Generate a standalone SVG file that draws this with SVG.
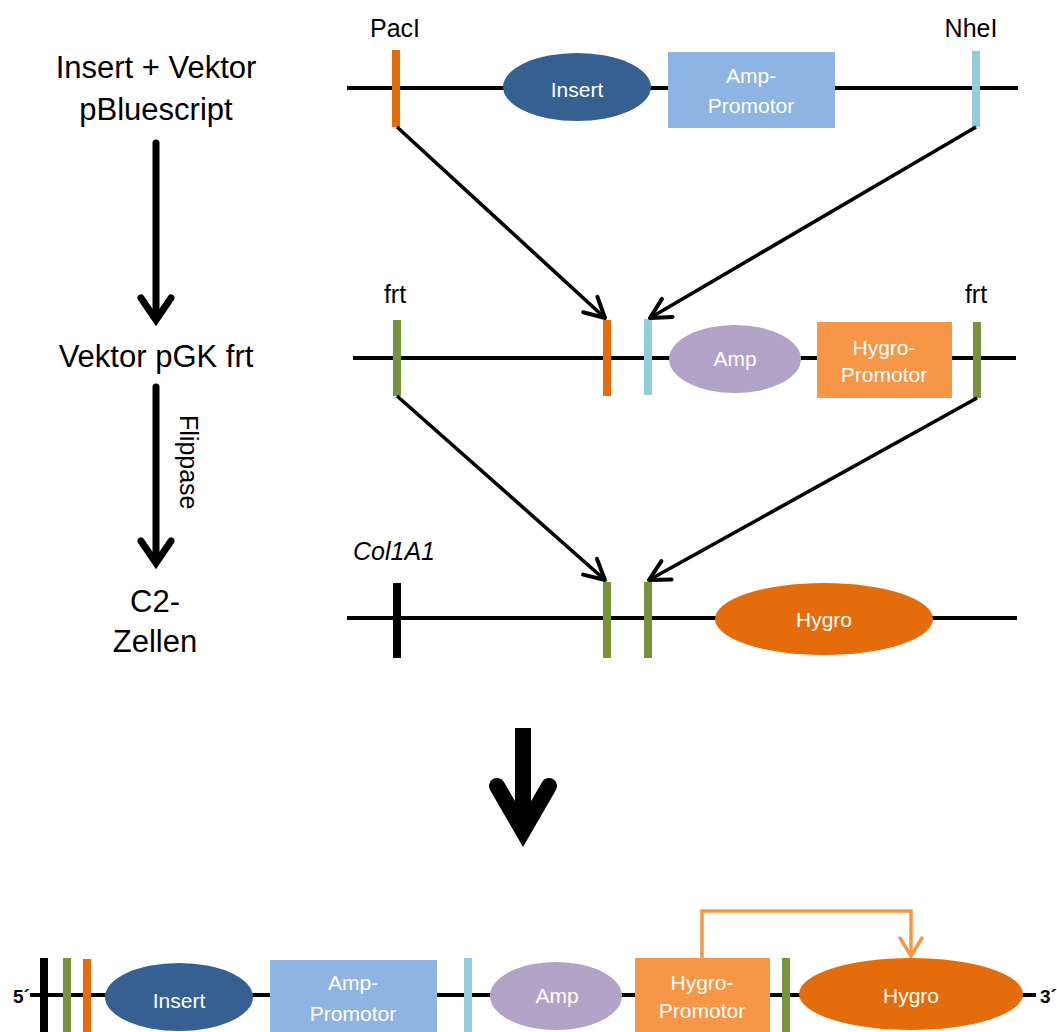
<svg xmlns="http://www.w3.org/2000/svg" width="1057" height="1032" viewBox="0 0 1057 1032">
<defs>
<style>
.t{font-family:"Liberation Sans",Arial,sans-serif;fill:#000}
.big{font-size:31px}
.lbl{font-size:25px}
.in{font-family:"Liberation Sans",Arial,sans-serif;font-size:21px;fill:#fff;text-anchor:middle}
.dna{stroke:#000;stroke-width:4;fill:none}
.conn{stroke:#000;stroke-width:3.6;fill:none}
.flow{stroke:#000;stroke-width:7;fill:none;stroke-linecap:round}
.head{stroke:#000;stroke-width:7;fill:none;stroke-linecap:round;stroke-linejoin:miter;stroke-miterlimit:10}
</style>
<marker id="ah" markerUnits="userSpaceOnUse" viewBox="-26 -14 30 28" refX="0" refY="0" markerWidth="30" markerHeight="28" orient="auto">
<path d="M-20,-10.5 L0,0 L-20,10.5" fill="none" stroke="#000" stroke-width="4" stroke-linecap="round" stroke-linejoin="round"/>
</marker>
<marker id="ahO" markerUnits="userSpaceOnUse" viewBox="-26 -14 30 28" refX="0" refY="0" markerWidth="30" markerHeight="28" orient="auto">
<path d="M-18,-11 L0,0 L-18,11" fill="none" stroke="#F79646" stroke-width="3.5" stroke-linecap="round"/>
</marker>
</defs>
<rect width="1057" height="1032" fill="#fff"/>

<!-- left flow -->
<g id="step1">
<text class="t big" x="156" y="78" text-anchor="middle">Insert + Vektor</text>
<text class="t big" x="156" y="120" text-anchor="middle">pBluescript</text>
</g>
<g id="step2">
<text class="t big" x="156" y="367" text-anchor="middle">Vektor pGK frt</text>
</g>
<g id="step3">
<text class="t big" x="155" y="612" text-anchor="middle">C2-</text>
<text class="t big" x="155" y="652" text-anchor="middle">Zellen</text>
</g>
<g id="flow-arrows">
<line class="flow" x1="156" y1="143" x2="156" y2="318"/>
<polyline class="head" points="141,298 156,320 171,298"/>
<line class="flow" x1="156" y1="387" x2="156" y2="561"/>
<polyline class="head" points="141,541 156,563 171,541"/>
<text class="t" font-size="25" transform="translate(180,415) rotate(90)">Flippase</text>
</g>

<!-- top construct -->
<g id="row1">
<line class="dna" x1="347" y1="88" x2="1018" y2="88"/>
<text class="t lbl" x="395" y="37" text-anchor="middle">PacI</text>
<text class="t lbl" x="971" y="37" text-anchor="middle">NheI</text>
<rect x="392" y="50" width="8" height="77" fill="#E46C0A"/>
<rect x="972" y="51" width="8" height="76" fill="#93CDDD"/>
<g id="insert1"><ellipse cx="577" cy="87" rx="74" ry="34" fill="#376092"/><text class="in" x="577" y="97">Insert</text></g>
<g id="ampprom1"><rect x="668" y="52" width="167" height="76" fill="#8EB4E3"/><text class="in" x="751" y="83">Amp-</text><text class="in" x="751" y="113">Promotor</text></g>
</g>

<!-- middle construct -->
<g id="row2">
<line class="dna" x1="353" y1="358" x2="1016" y2="358"/>
<text class="t lbl" x="395" y="303" text-anchor="middle">frt</text>
<text class="t lbl" x="976" y="303" text-anchor="middle">frt</text>
<rect x="393" y="320" width="8" height="76" fill="#77933C"/>
<rect x="603" y="320" width="8" height="76" fill="#E46C0A"/>
<rect x="644" y="319" width="8" height="76" fill="#93CDDD"/>
<g id="amp2"><ellipse cx="735" cy="359" rx="66" ry="34" fill="#B3A2C7"/><text class="in" x="735" y="366">Amp</text></g>
<g id="hygprom2"><rect x="817" y="322" width="135" height="76" fill="#F79646"/><text class="in" x="884" y="355">Hygro-</text><text class="in" x="884" y="382">Promotor</text></g>
<rect x="973" y="322" width="8" height="76" fill="#77933C"/>
</g>

<!-- third construct -->
<g id="row3">
<line class="dna" x1="347" y1="618" x2="1017" y2="618"/>
<text class="t lbl" x="353" y="560" font-style="italic">Col1A1</text>
<rect x="393" y="583" width="8" height="75" fill="#000"/>
<rect x="603" y="582" width="8" height="76" fill="#77933C"/>
<rect x="644" y="582" width="8" height="76" fill="#77933C"/>
<g id="hygro3"><ellipse cx="824" cy="619" rx="109" ry="36" fill="#E46C0A"/><text class="in" x="824" y="627">Hygro</text></g>
</g>

<!-- connectors -->
<g id="connectors">
<line class="conn" x1="397" y1="127" x2="605" y2="318" marker-end="url(#ah)"/>
<line class="conn" x1="976" y1="127" x2="650" y2="318" marker-end="url(#ah)"/>
<line class="conn" x1="397" y1="396" x2="605" y2="580" marker-end="url(#ah)"/>
<line class="conn" x1="977" y1="398" x2="649" y2="580" marker-end="url(#ah)"/>
<line stroke="#000" stroke-width="16" x1="523" y1="728" x2="523" y2="830"/>
<polyline points="497,786 523,831 549,786" fill="none" stroke="#000" stroke-width="16" stroke-linecap="round" stroke-linejoin="miter" stroke-miterlimit="10"/>
<path d="M702,958 V911 H911 V956" fill="none" stroke="#F79646" stroke-width="3.5" marker-end="url(#ahO)"/>
</g>

<!-- result construct -->
<g id="row4">
<line class="dna" x1="30" y1="995" x2="1036" y2="995"/>
<text class="t" x="13" y="1003" font-size="19" font-weight="bold">5´</text>
<text class="t" x="1040" y="1003" font-size="19" font-weight="bold">3´</text>
<rect x="40" y="958" width="8" height="80" fill="#000"/>
<rect x="63" y="958" width="8" height="80" fill="#77933C"/>
<rect x="83" y="959" width="8" height="80" fill="#E46C0A"/>
<g id="insert4"><ellipse cx="179" cy="997" rx="74" ry="34" fill="#376092"/><text class="in" x="179" y="1008">Insert</text></g>
<g id="ampprom4"><rect x="270" y="960" width="167" height="80" fill="#8EB4E3"/><text class="in" x="353" y="990">Amp-</text><text class="in" x="353" y="1021">Promotor</text></g>
<rect x="464" y="958" width="8" height="80" fill="#93CDDD"/>
<g id="amp4"><ellipse cx="556" cy="996" rx="66" ry="34" fill="#B3A2C7"/><text class="in" x="557" y="1003">Amp</text></g>
<g id="hygprom4"><rect x="635" y="958" width="135" height="80" fill="#F79646"/><text class="in" x="702" y="990">Hygro-</text><text class="in" x="702" y="1018">Promotor</text></g>
<rect x="782" y="958" width="8" height="80" fill="#77933C"/>
<g id="hygro4"><ellipse cx="911" cy="994" rx="112" ry="36" fill="#E46C0A"/><text class="in" x="911" y="1003">Hygro</text></g>
</g>
</svg>
